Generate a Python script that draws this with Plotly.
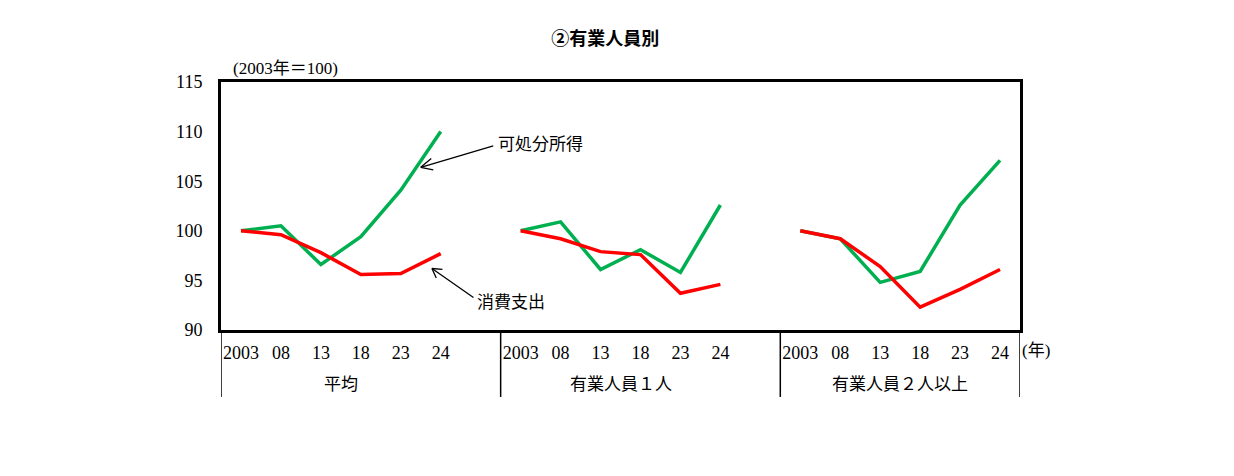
#有業人員別 の可処分所得・消費支出（2003年=100）
import plotly.graph_objects as go

years = ["2003", "08", "13", "18", "23", "24"]
groups = ["平均", "有業人員１人", "有業人員２人以上"]

# 可処分所得
income = [
    [100.0, 100.5, 96.6, 99.4, 104.1, 110.0],
    [100.0, 100.9, 96.1, 98.1, 95.8, 102.6],
    [100.0, 99.2, 94.8, 95.9, 102.6, 107.1],
]
# 消費支出
spending = [
    [100.0, 99.6, 97.8, 95.6, 95.7, 97.7],
    [100.0, 99.2, 97.9, 97.6, 93.7, 94.6],
    [100.0, 99.2, 96.4, 92.3, 94.1, 96.1],
]

font_jp = "Liberation Serif, Noto Sans CJK JP"
green = "#00B050"
red = "#FF0000"
step = len(years) + 1  # one empty slot between groups

fig = go.Figure()
tickvals, ticktext = [], []
for g in range(len(groups)):
    xs = [g * step + i for i in range(len(years))]
    tickvals += xs
    ticktext += years
    fig.add_trace(go.Scatter(x=xs, y=income[g], mode="lines",
                             line=dict(color=green, width=3.5), showlegend=False))
    fig.add_trace(go.Scatter(x=xs, y=spending[g], mode="lines",
                             line=dict(color=red, width=3.5), showlegend=False))
    # group label below the axis
    fig.add_annotation(x=g * step + (len(years) - 1) / 2, y=-0.218, xref="x", yref="paper",
                       text=groups[g], showarrow=False, yanchor="middle",
                       font=dict(family=font_jp, size=17, color="black"))

# dividers under the axis
for xd in [-0.5, step - 0.5, 2 * step - 0.5, 3 * step - 1.5]:
    fig.add_shape(type="line", xref="x", yref="paper", x0=xd, x1=xd, y0=0, y1=-0.27,
                  line=dict(color="black", width=1.5))

# arrows (open heads)
def open_arrow(x, y, tail, arms):
    fig.add_annotation(x=x, y=y, ax=tail[0], ay=tail[1], text="", showarrow=True,
                       arrowhead=0, arrowwidth=1.3, arrowcolor="black")
    for a in arms:
        fig.add_annotation(x=x, y=y, ax=a[0], ay=a[1], text="", showarrow=True,
                           arrowhead=0, arrowwidth=1.3, arrowcolor="black")

open_arrow(4.5, 106.4, (74, -22), [(14, 3), (12, -10)])
open_arrow(4.78, 96.2, (43, 30), [(12, 1), (5, 11)])

fig.add_annotation(x=6.38, y=108.75, text="可処分所得", showarrow=False, xanchor="left",
                   font=dict(family=font_jp, size=17, color="black"))
fig.add_annotation(x=5.85, y=92.8, text="消費支出", showarrow=False, xanchor="left",
                   font=dict(family=font_jp, size=17, color="black"))

fig.add_annotation(x=0.012, y=1.055, xref="paper", yref="paper", text="(2003年＝100)",
                   showarrow=False, xanchor="left", yanchor="middle",
                   font=dict(family=font_jp, size=17, color="black"))
fig.add_annotation(x=1.0, y=-0.081, xref="paper", yref="paper", text="(年)",
                   showarrow=False, xanchor="left", yanchor="middle",
                   font=dict(family=font_jp, size=17, color="black"))

fig.update_layout(
    width=1234, height=476,
    margin=dict(l=213, r=222, t=74, b=154),
    paper_bgcolor="white", plot_bgcolor="white",
    title=dict(text="<b>②有業人員別</b>", x=0.484, xanchor="center", y=0.935, yanchor="middle",
               font=dict(family="Noto Sans CJK JP", size=18, color="black")),
    xaxis=dict(range=[-0.5, 3 * step - 1.5], tickvals=tickvals, ticktext=ticktext,
               showgrid=False, zeroline=False, showline=True, mirror=True, automargin=False,
               linecolor="black", linewidth=3, ticks="", ticklabelstandoff=4,
               tickfont=dict(family=font_jp, size=18, color="black")),
    yaxis=dict(range=[90, 115], dtick=5, showgrid=False, zeroline=False, showline=True,
               mirror=True, automargin=False, linecolor="black", linewidth=3, ticks="",
               ticklabelstandoff=12, tickfont=dict(family=font_jp, size=18, color="black")),
)

fig.write_html("out.html")
